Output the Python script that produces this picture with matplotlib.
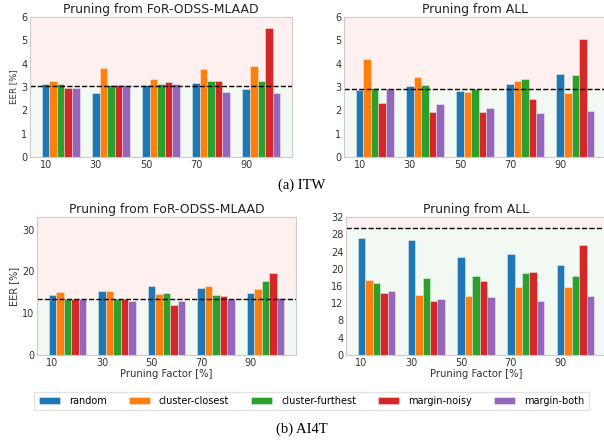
"""Pruning factor vs EER bar charts (ITW and AI4T)."""

import matplotlib
matplotlib.use('Agg')
import matplotlib.pyplot as plt
import numpy as np

factors = ['10', '30', '50', '70', '90']
methods = ['random', 'cluster-closest', 'cluster-furthest', 'margin-noisy', 'margin-both']
colors = ['#1f77b4', '#ff7f0e', '#2ca02c', '#d62728', '#9467bd']

# ITW, pruning from FoR-ODSS-MLAAD (rows = methods, cols = factors)
itw_for = [
    [3.13, 2.73, 3.07, 3.16, 2.90],
    [3.26, 3.80, 3.34, 3.77, 3.92],
    [3.13, 3.07, 3.13, 3.26, 3.27],
    [2.94, 3.07, 3.21, 3.26, 5.53],
    [2.94, 3.07, 3.13, 2.80, 2.73],
]
itw_for_base = 3.06

# ITW, pruning from ALL
itw_all = [
    [2.87, 3.04, 2.83, 3.13, 3.57],
    [4.18, 3.43, 2.79, 3.26, 2.74],
    [2.94, 3.09, 2.91, 3.34, 3.51],
    [2.33, 1.91, 1.95, 2.49, 5.05],
    [2.90, 2.26, 2.09, 1.88, 1.99],
]
itw_all_base = 2.90

# AI4T, pruning from FoR-ODSS-MLAAD
ai4t_for = [
    [14.3, 15.2, 16.6, 16.1, 14.9],
    [15.1, 15.2, 14.6, 16.4, 15.9],
    [13.3, 13.3, 14.8, 14.4, 17.6],
    [13.3, 13.3, 11.9, 14.1, 19.7],
    [13.3, 12.9, 12.8, 13.3, 13.6],
]
ai4t_for_base = 13.3

# AI4T, pruning from ALL
ai4t_all = [
    [27.1, 26.6, 22.8, 23.5, 20.8],
    [17.5, 13.9, 13.7, 15.8, 15.8],
    [16.7, 17.8, 18.3, 18.9, 18.3],
    [14.4, 12.6, 17.2, 19.3, 25.5],
    [14.9, 13.0, 13.4, 12.6, 13.6],
]
ai4t_all_base = 29.4

W, H = 604, 441
fig = plt.figure(figsize=(W / 100, H / 100), dpi=100)


def add_ax(x0, y0, x1, y1):
    # pixel box (top-left origin) -> figure fraction
    return fig.add_axes([x0 / W, 1 - y1 / H, (x1 - x0) / W, (y1 - y0) / H])


def draw_panel(ax, data, base, title, ylim, yticks, ylabel=None, xlabel=False):
    x = np.arange(len(factors))
    width = 0.15
    ax.axhspan(base, ylim[1], color='#ff0000', alpha=0.06, lw=0)
    ax.axhspan(ylim[0], base, color='#2ca02c', alpha=0.06, lw=0)
    for i, (name, vals) in enumerate(zip(methods, data)):
        ax.bar(x + i * width, vals, width, color=colors[i], label=name,
               edgecolor=(1, 1, 1, 0.45), linewidth=0.6)
    ax.axhline(base, color='black', linestyle='--', linewidth=1.0)
    ax.set_xticks(x)
    ax.set_xticklabels(factors)
    ax.set_ylim(*ylim)
    ax.set_yticks(yticks)
    ax.set_title(title, fontsize=8.9, pad=3, color='#222222')
    ax.tick_params(labelsize=7, colors='#333333', length=0, pad=2)
    for s in ax.spines.values():
        s.set_color('#cccccc')
        s.set_linewidth(0.8)
    if ylabel:
        ax.set_ylabel('EER [%]', fontsize=ylabel, color='#333333', labelpad=2)
    if xlabel:
        ax.set_xlabel('Pruning Factor [%]', fontsize=7.2, color='#333333', labelpad=1)


ax1 = add_ax(30, 17, 292, 157)
draw_panel(ax1, itw_for, itw_for_base, 'Pruning from FoR-ODSS-MLAAD',
           (0, 6), range(0, 7), ylabel=6.2)
ax2 = add_ax(344, 17, 606, 157)
draw_panel(ax2, itw_all, itw_all_base, 'Pruning from ALL', (0, 6), range(0, 7))
ax3 = add_ax(37, 217, 296, 355)
draw_panel(ax3, ai4t_for, ai4t_for_base, 'Pruning from FoR-ODSS-MLAAD',
           (0, 33), [0, 10, 20, 30], ylabel=7, xlabel=True)
ax4 = add_ax(346, 217, 606, 355)
draw_panel(ax4, ai4t_all, ai4t_all_base, 'Pruning from ALL',
           (0, 32), range(0, 33, 4), xlabel=True)

fig.text(0.5, 1 - 185 / H, '(a) ITW', ha='center', va='center',
         fontsize=10.5, family='Liberation Serif')
fig.text(0.5, 1 - 429 / H, '(b) AI4T', ha='center', va='center',
         fontsize=10.5, family='Liberation Serif')

handles, labels = ax1.get_legend_handles_labels()
fig.legend(handles, labels, loc='center', bbox_to_anchor=(311.5 / W, 1 - 401 / H),
           ncol=5, fontsize=7, frameon=True, edgecolor='#dddddd',
           handlelength=2.2, handleheight=0.65, handletextpad=0.9,
           columnspacing=2.25, borderpad=0.45, fancybox=False)

fig.savefig('out.png', dpi=100)
plt.close(fig)
